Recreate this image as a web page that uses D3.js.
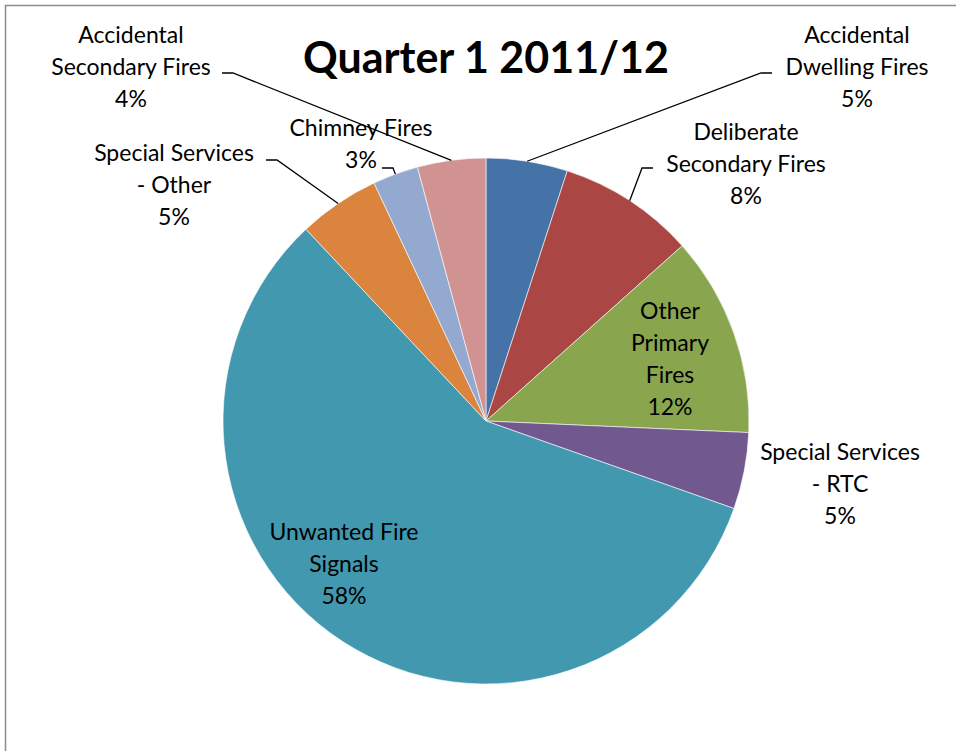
<!DOCTYPE html>
<html>
<head>
<meta charset="utf-8">
<script src="https://cdn.jsdelivr.net/npm/d3@7"></script>
<style>
  body { margin: 0; background: #fff; }
  svg text { font-family: Lato, "Open Sans", sans-serif; fill: #000; }
</style>
</head>
<body>
<div id="chart"></div>
<script>
// data (clockwise from 12 o'clock)
var categories = ["Accidental Dwelling Fires", "Deliberate Secondary Fires", "Other Primary Fires",
  "Special Services - RTC", "Unwanted Fire Signals", "Special Services - Other",
  "Chimney Fires", "Accidental Secondary Fires"];
var values = [5.0, 8.4, 12.3, 4.7, 57.6, 5.0, 2.8, 4.2];
var labelLines = [["Accidental", "Dwelling Fires"], ["Deliberate", "Secondary Fires"],
  ["Other", "Primary", "Fires"], ["Special Services", "- RTC"], ["Unwanted Fire", "Signals"],
  ["Special Services", "- Other"], ["Chimney Fires"], ["Accidental", "Secondary Fires"]];
var colors = ["#4572A7", "#AA4643", "#89A54E", "#71588F", "#4198AF", "#DB843D", "#93A9CF", "#D19392"];
var title = "Quarter 1 2011/12";

// label layout: centre x, first line y, and leader anchor (null = label inside the slice)
var labelPos = [
  { x: 857, y: 35, lead: [772, 73], side: -1 },
  { x: 746, y: 132, lead: [653, 168], side: -1 },
  { x: 670, y: 311, lead: null },
  { x: 840, y: 452, lead: null },
  { x: 344, y: 532, lead: null },
  { x: 174, y: 153, lead: [266, 160], side: 1 },
  { x: 361, y: 128, lead: [382, 168], side: 1 },
  { x: 131, y: 35, lead: [222, 73], side: 1 }
];

var width = 956, height = 751;
var cx = 486, cy = 421, r = 263;
var lineH = 32;

var svg = d3.select('#chart').append('svg')
    .attr('width', width)
    .attr('height', height);

// chart frame (cut off at right / bottom like the reference)
svg.append('path')
    .attr('d', 'M5.5,' + height + ' V5.5 H' + width)
    .attr('fill', 'none')
    .attr('stroke', '#8c8c8c')
    .attr('stroke-width', 1.5);

svg.append('text')
    .attr('x', cx)
    .attr('y', 73)
    .attr('text-anchor', 'middle')
    .attr('font-weight', 'bold')
    .attr('font-size', 43)
    .text(title);

var pie = d3.pie().sort(null).value(function(d) { return d; });
var arcs = pie(values);
var arc = d3.arc().innerRadius(0).outerRadius(r);

var g = svg.append('g').attr('transform', 'translate(' + cx + ',' + cy + ')');

g.selectAll('path.slice')
    .data(arcs)
  .enter().append('path')
    .attr('class', 'slice')
    .attr('d', arc)
    .attr('fill', function(d, i) { return colors[i]; })
    .attr('stroke', '#fff')
    .attr('stroke-width', 0.6);

var fmt = d3.format('.0%');
var total = d3.sum(values);

// leader lines
arcs.forEach(function(d, i) {
  var p = labelPos[i];
  if (!p.lead) return;
  var mid = (d.startAngle + d.endAngle) / 2;
  var ex = cx + r * Math.sin(mid), ey = cy - r * Math.cos(mid);
  var hx = p.lead[0] + p.side * 11;
  var pts = [[p.lead[0], p.lead[1]], [hx, p.lead[1]], [ex, ey]];
  svg.append('path')
      .attr('d', d3.line()(pts))
      .attr('fill', 'none')
      .attr('stroke', '#000')
      .attr('stroke-width', 1.3);
});

// labels
arcs.forEach(function(d, i) {
  var p = labelPos[i];
  var lines = labelLines[i].concat([fmt(values[i] / total)]);
  var t = svg.append('text')
      .attr('text-anchor', 'middle')
      .attr('font-size', 23);
  lines.forEach(function(s, k) {
    t.append('tspan')
        .attr('x', p.x)
        .attr('y', p.y + k * lineH + 8)
        .text(s);
  });
});
</script>
</body>
</html>
